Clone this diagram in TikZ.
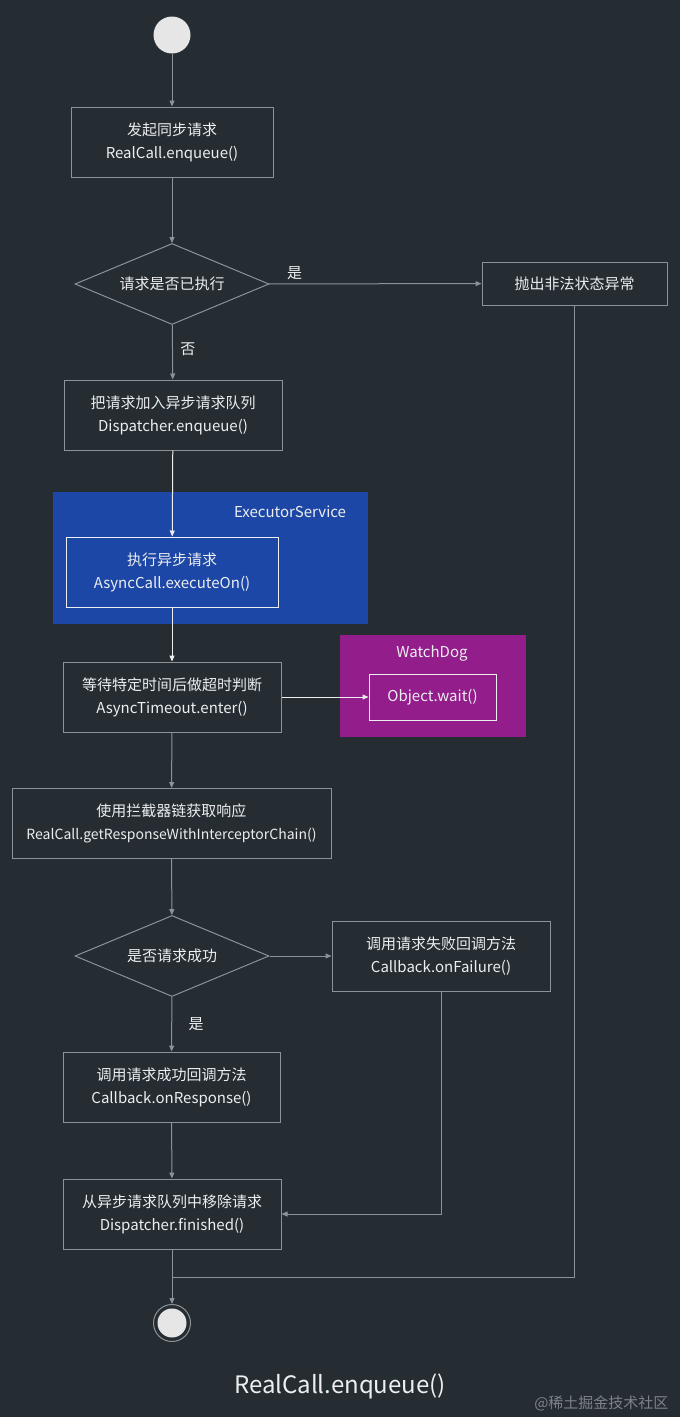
\documentclass[tikz,border=0pt]{standalone}
\usepackage{fontspec}
\setmainfont{Noto Sans CJK SC}
\usetikzlibrary{shapes.geometric,arrows.meta,positioning}
\usepackage{xcolor}
\definecolor{bgdark}{RGB}{37,45,51}
\definecolor{linegrey}{RGB}{140,147,152}
\definecolor{txtwhite}{RGB}{236,238,240}
\definecolor{execblue}{RGB}{29,71,166}
\definecolor{watchpurple}{RGB}{148,29,140}
\definecolor{dotfill}{RGB}{230,230,230}
\definecolor{markgrey}{RGB}{125,131,136}

\begin{document}
\begin{tikzpicture}[x=1pt, y=-1pt,
    >={Triangle[length=6pt,width=5pt]},
    every node/.style={text=txtwhite, font=\fontsize{15}{23}\selectfont},
    flowbox/.style={draw=linegrey, line width=1pt, minimum width=#1, minimum height=70pt, align=center, inner sep=2pt},
    decision/.style={diamond, draw=linegrey, line width=1pt, aspect=2.4, minimum width=194pt, minimum height=81pt, inner sep=0pt},
    region/.style={inner sep=0pt},
    conn/.style={draw=linegrey, line width=1pt, ->},
    link/.style={draw=linegrey, line width=1pt},
    startdot/.style={circle, fill=dotfill, minimum size=37pt, inner sep=0pt},
    enddot/.style={circle, draw=linegrey, line width=1pt, fill=bgdark, minimum size=37pt, inner sep=0pt},
    enddotcore/.style={circle, fill=dotfill, minimum size=29pt, inner sep=0pt}]
    % 背景
    \fill[bgdark] (0,0) rectangle (680,1417);
    \useasboundingbox (0,0) rectangle (680,1417);

    % 发起请求
    \node[startdot] (start) at (172,35) {};
    \node[flowbox=202pt] (launch) at (172,142) {发起同步请求\\RealCall.enqueue()};
    \node[decision] (executed) at (172,284) {请求是否已执行};
    \node[flowbox=185pt, minimum height=43pt] (throw) at (574.5,283.5) {抛出非法状态异常};
    \node[flowbox=218pt] (enqueue) at (173,415) {把请求加入异步请求队列\\Dispatcher.enqueue()};

    % ExecutorService
    \node[region, fill=execblue, minimum width=315pt, minimum height=132pt] (executor) at (210.5,558) {};
    \node (execlabel) at (290,512) {ExecutorService};
    \node[flowbox=212pt, draw=txtwhite] (execute) at (172,572) {执行异步请求\\AsyncCall.executeOn()};

    % 超时判断 + WatchDog
    \node[flowbox=218pt] (timeout) at (172,697) {等待特定时间后做超时判断\\AsyncTimeout.enter()};
    \node[region, fill=watchpurple, minimum width=186pt, minimum height=102pt] (watchdog) at (433,686) {};
    \node (watchlabel) at (432,653) {WatchDog};
    \node[flowbox=127pt, minimum height=46pt, draw=txtwhite] (wait) at (432.5,697) {Object.wait()};

    % 拦截器链
    \node[flowbox=319pt] (chain) at (171.5,823.5) {使用拦截器链获取响应\\{\fontsize{14}{23}\selectfont RealCall.getResponseWithInterceptorChain()}};
    \node[decision] (success) at (172,956) {是否请求成功};
    \node[flowbox=218pt] (failure) at (441,956) {调用请求失败回调方法\\Callback.onFailure()};
    \node[flowbox=217pt] (response) at (171.5,1087) {调用请求成功回调方法\\Callback.onResponse()};
    \node[flowbox=218pt] (finished) at (172,1214) {从异步请求队列中移除请求\\Dispatcher.finished()};

    % 结束
    \coordinate (merge) at (172,1277);
    \node[enddot] (stop) at (172,1323) {};
    \node[enddotcore] (stopcore) at (stop.center) {};
    \node[font=\fontsize{24}{28}\selectfont] (title) at (340,1386) {RealCall.enqueue()};
    \node[anchor=east, text=markgrey] (mark) at (672,1403) {@稀土掘金技术社区};

    % 连线
    \draw[conn] (start) -- (launch);
    \draw[conn] (launch) -- (executed);
    \draw[conn] (executed) -- node[above, pos=0.12] {是} (throw);
    \draw[conn] (executed) -- node[right, pos=0.45, xshift=4pt] {否} (enqueue);
    \draw[conn, draw=txtwhite] (enqueue) -- (execute);
    \draw[conn, draw=txtwhite] (execute) -- (timeout);
    \draw[conn, draw=txtwhite] (timeout) -- (wait);
    \draw[conn] (timeout) -- (chain);
    \draw[conn] (chain) -- (success);
    \draw[conn] (success) -- (failure);
    \draw[conn] (success) -- node[right, xshift=13pt] {是} (response);
    \draw[conn] (response) -- (finished);
    \draw[conn] (failure) |- (finished);
    \draw[link] (throw) |- (merge);
    \draw[conn] (finished) -- (stop);
\end{tikzpicture}
\end{document}
